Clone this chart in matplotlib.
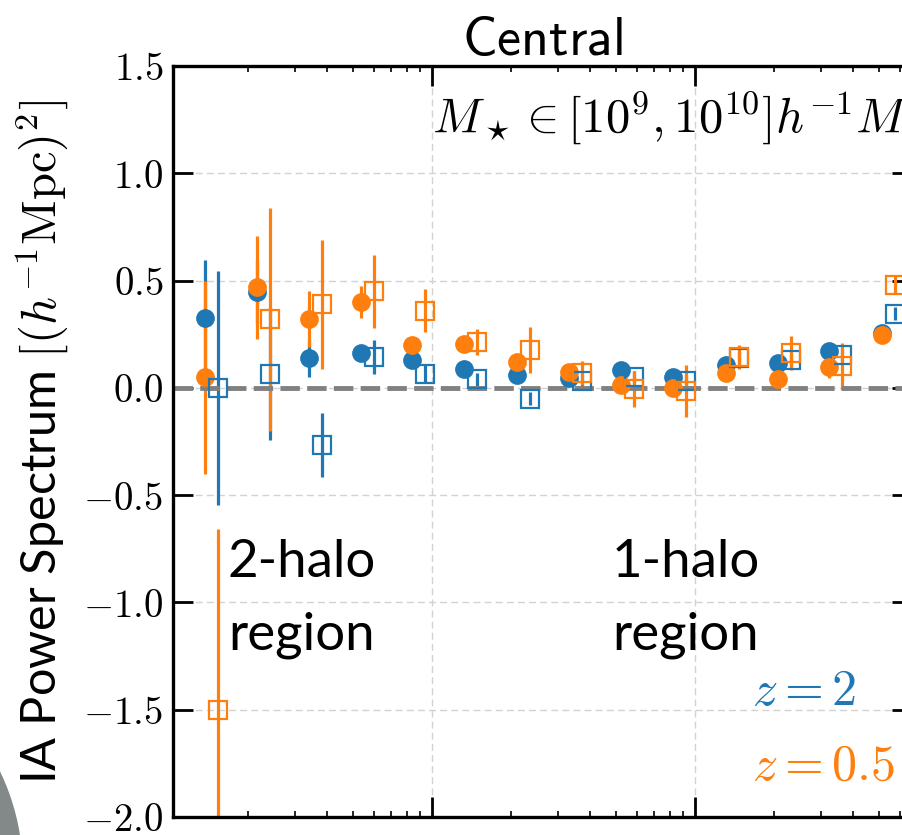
import matplotlib.pyplot as plt
from matplotlib.patches import Ellipse
from matplotlib.ticker import FuncFormatter, MultipleLocator, LogLocator, NullFormatter

plt.rcParams['mathtext.fontset'] = 'cm'
plt.rcParams['font.family'] = ['Lato', 'DejaVu Sans']

# ---------- data ----------
# k bins
k_bins = [0.137, 0.216, 0.341, 0.537, 0.839, 1.32, 2.10, 3.32, 5.23, 8.25,
          13.1, 20.7, 32.3, 51.4]

# filled circles
circ_z2 = [0.326, 0.447, 0.14, 0.163, 0.13, 0.088, 0.06, 0.045, 0.084, 0.05,
           0.107, 0.116, 0.172, 0.256]
circ_z2_err = [0.27, 0.15, 0.09, 0.03, 0.03, 0.02, 0.02, 0.02, 0.02, 0.02,
               0.02, 0.02, 0.02, 0.02]
circ_z05 = [0.05, 0.47, 0.32, 0.40, 0.20, 0.205, 0.12, 0.075, 0.014, 0.0,
            0.07, 0.04, 0.098, 0.247]
circ_z05_err = [0.45, 0.24, 0.13, 0.075, 0.03, 0.03, 0.04, 0.02, 0.02, 0.03,
                0.02, 0.02, 0.05, 0.02]

# open squares
sq_z2 = [0.0, 0.065, -0.265, 0.145, 0.065, 0.04, -0.05, 0.033, 0.05, 0.03,
         0.14, 0.13, 0.154, 0.345]
sq_z2_err = [0.545, 0.31, 0.15, 0.08, 0.04, 0.03, 0.03, 0.03, 0.03, 0.03,
             0.03, 0.03, 0.03, 0.03]
sq_z05 = [-1.5, 0.32, 0.39, 0.45, 0.36, 0.215, 0.177, 0.07, -0.005, -0.015,
          0.145, 0.163, 0.10, 0.48]
sq_z05_err = [0.84, 0.52, 0.30, 0.17, 0.10, 0.06, 0.107, 0.055, 0.085, 0.12,
              0.057, 0.08, 0.11, 0.04]

c_z2 = '#1f77b4'
c_z05 = '#ff7f0e'

# squares are shifted a little to the right so both sets stay visible
k_sq = [k * 1.121 for k in k_bins]

# ---------- figure ----------
fig = plt.figure(figsize=(9.02, 8.35), dpi=100)
ax = fig.add_axes([0.1918, 0.02156, 0.8193, 0.8994])

ebar = dict(fmt='none', elinewidth=2.3, capsize=0, zorder=2)
ax.errorbar(k_bins, circ_z2, yerr=circ_z2_err, ecolor=c_z2, **ebar)
ax.errorbar(k_bins, circ_z05, yerr=circ_z05_err, ecolor=c_z05, **ebar)
ax.errorbar(k_sq, sq_z2, yerr=sq_z2_err, ecolor=c_z2, **ebar)
ax.errorbar(k_sq, sq_z05, yerr=sq_z05_err, ecolor=c_z05, **ebar)

ax.plot(k_bins, circ_z2, 'o', ms=13.5, color=c_z2, mec='none', zorder=3)
ax.plot(k_bins, circ_z05, 'o', ms=13.5, color=c_z05, mec='none', zorder=3)
ax.plot(k_sq, sq_z2, 's', ms=13, mfc='none', mec=c_z2, mew=1.6, zorder=3)
ax.plot(k_sq, sq_z05, 's', ms=13, mfc='none', mec=c_z05, mew=1.6, zorder=3)

# zero line
ax.axhline(0, color='#808080', lw=3.5, dashes=(4, 1.5), zorder=2.5)

ax.set_xscale('log')
ax.set_xlim(0.1035, 66.8)
ax.set_ylim(-2.0, 1.5)

ax.yaxis.set_major_locator(MultipleLocator(0.5))
ax.yaxis.set_major_formatter(FuncFormatter(lambda v, _: f'${v:.1f}$'))
ax.xaxis.set_major_locator(LogLocator(base=10))
ax.xaxis.set_minor_locator(LogLocator(base=10, subs=range(2, 10)))
ax.xaxis.set_minor_formatter(NullFormatter())

ax.tick_params(which='both', direction='in', top=True, right=True,
               labelbottom=False)
ax.tick_params(which='major', length=14.5, width=2.0, labelsize=28, pad=7)
ax.tick_params(which='minor', length=4.5, width=1.2)
for s in ax.spines.values():
    s.set_linewidth(2.4)

ax.set_axisbelow(True)
ax.grid(True, which='major', color='#d2d2d2', lw=1.0, dashes=(5, 3))

ax.set_title(r'$\mathsf{Central}$', fontsize=39, pad=8)

# annotations
ax.text(0.3505, 0.9108, r'$M_\star \in [10^9, 10^{10}]h^{-1}M_\odot$',
        transform=ax.transAxes, fontsize=35, ha='left', va='baseline')
ax.text(0.0744, 0.3196, '2-halo', transform=ax.transAxes, fontsize=38,
        ha='left', va='baseline')
ax.text(0.0744, 0.2224, 'region', transform=ax.transAxes, fontsize=38,
        ha='left', va='baseline')
ax.text(0.594, 0.3196, '1-halo', transform=ax.transAxes, fontsize=38,
        ha='left', va='baseline')
ax.text(0.594, 0.2224, 'region', transform=ax.transAxes, fontsize=38,
        ha='left', va='baseline')
ax.text(0.7835, 0.1491, r'$z = 2$', transform=ax.transAxes, fontsize=36,
        color=c_z2, ha='left', va='baseline')
ax.text(0.7835, 0.0493, r'$z = 0.5$', transform=ax.transAxes, fontsize=36,
        color=c_z05, ha='left', va='baseline')

fig.text(0.0465, 0.47, r'IA Power Spectrum $[(h^{-1}{\rm Mpc})^2]$',
         rotation=90, fontsize=35, ha='center', va='center')

# grey disc in the lower-left corner
fig.add_artist(Ellipse((-203 / 902, -35 / 835), 450 / 902, 450 / 835,
                       transform=fig.transFigure, color='#838888',
                       zorder=10))

fig.savefig('out.png', dpi=100)
